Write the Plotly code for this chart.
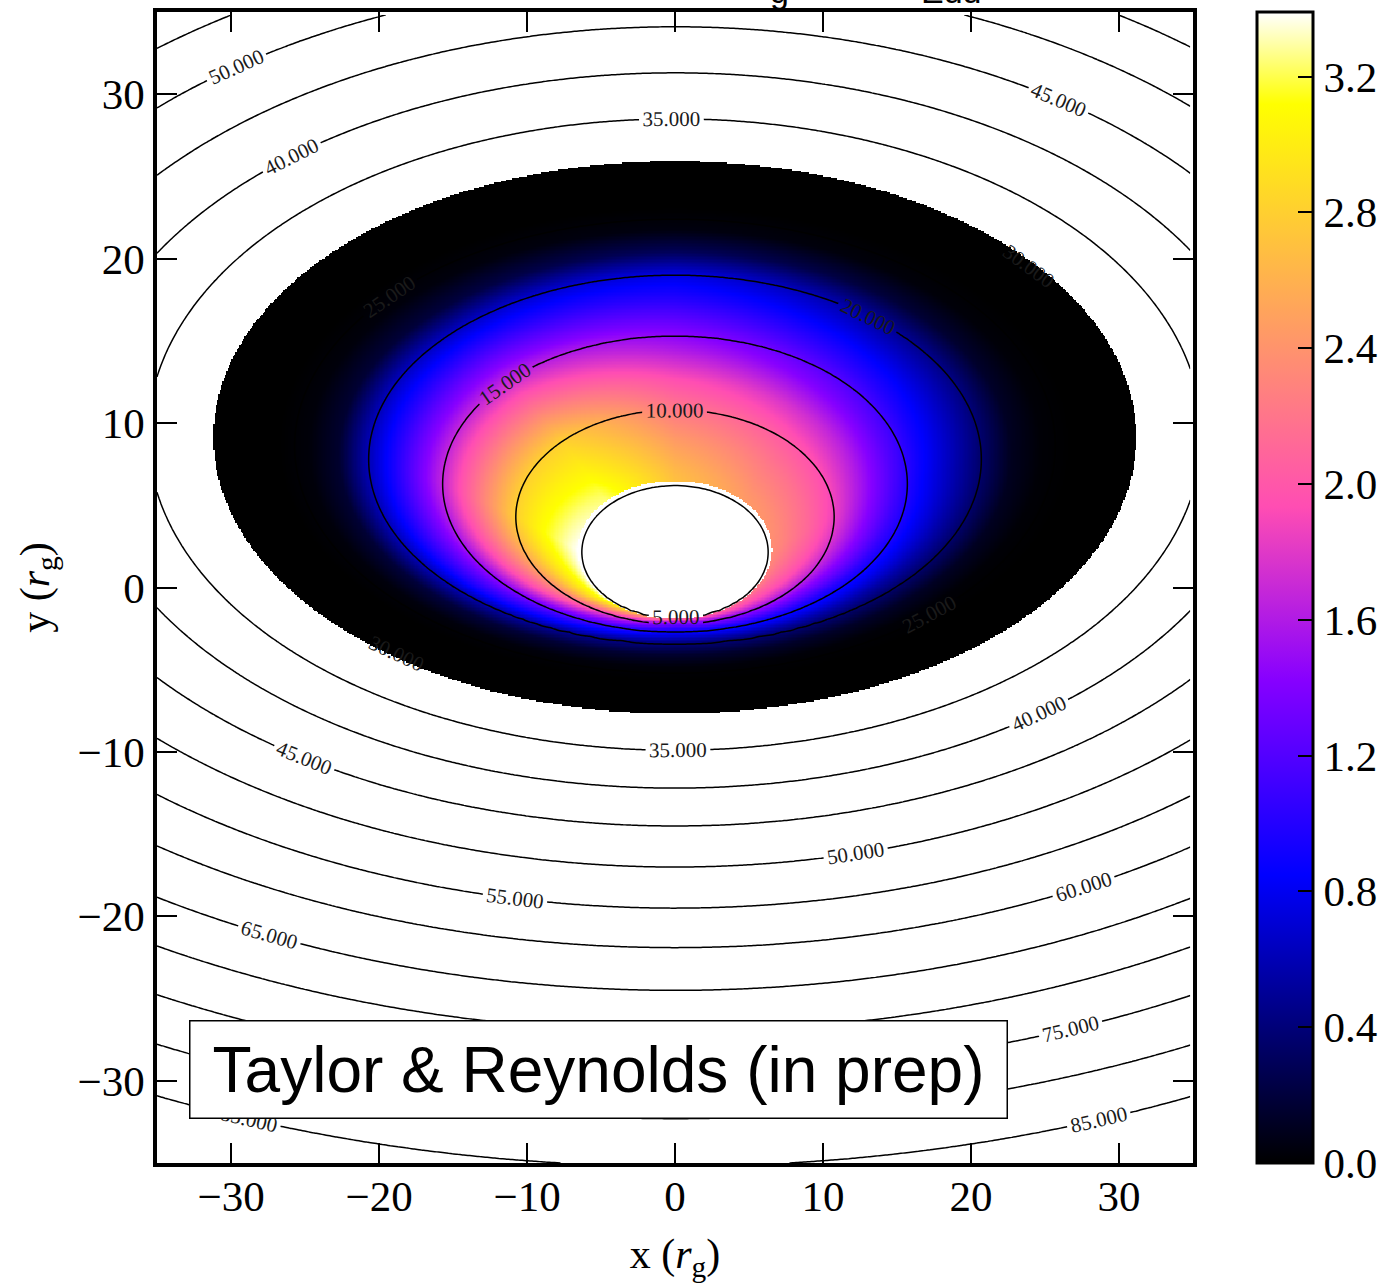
import numpy as np
import plotly.graph_objects as go

# ---------------- data ----------------
# geometry of the r-contours (r in r_g): projected ellipse half-width, centre height, half-height
surf_r     = [1, 3, 5, 10, 15, 20, 25, 30, 35, 40, 45, 50, 55, 60, 65, 70, 75, 80, 85, 90, 100, 120]
surf_halfx = [2.5, 4.4, 6.3, 10.75, 15.7, 20.7, 25.7, 30.8, 35.6, 40.3, 45.0, 49.7, 54.5, 59.3, 64.0,
              68.8, 73.5, 78.3, 83.0, 87.8, 97.3, 116.5]
surf_ycen  = [0.8, 1.4, 2.15, 4.3, 6.3, 7.8, 8.6, 9.1, 9.3, 9.55, 9.8, 10.0, 10.1, 10.2, 10.3, 10.4,
              10.5, 10.6, 10.7, 10.8, 11.0, 11.4]
surf_halfy = [1.6, 2.8, 4.05, 6.5, 9.0, 11.2, 13.8, 16.6, 19.2, 21.75, 24.3, 27.0, 29.6, 32.1, 34.8,
              37.4, 40.1, 42.9, 45.9, 48.7, 54.3, 65.5]

# disk extent
disk_r_in = 5.3
disk_r_out = 30.4

# emission read along 8 directions round the rings (0 = right, counter-clockwise, 45 deg apart)
prof_r = [5.3, 6, 8, 10, 12, 14, 16, 18, 20, 22, 24, 26, 30.4]
I_right      = [2.35, 2.30, 2.10, 1.85, 1.50, 1.15, 0.85, 0.60, 0.35, 0.10, 0.02, 0.0, 0.0]
I_upright    = [2.45, 2.40, 2.22, 2.02, 1.72, 1.35, 1.05, 0.78, 0.50, 0.18, 0.03, 0.0, 0.0]
I_top        = [2.70, 2.65, 2.45, 2.22, 1.95, 1.60, 1.30, 1.00, 0.75, 0.30, 0.05, 0.0, 0.0]
I_upleft     = [3.25, 3.20, 3.00, 2.80, 2.35, 1.90, 1.45, 1.05, 0.65, 0.20, 0.04, 0.0, 0.0]
I_left       = [3.39, 3.32, 3.10, 2.80, 2.35, 1.90, 1.45, 1.00, 0.60, 0.15, 0.03, 0.0, 0.0]
I_lowleft    = [3.30, 3.10, 2.70, 2.30, 1.95, 1.60, 1.25, 0.95, 0.60, 0.20, 0.04, 0.0, 0.0]
I_bottom     = [2.10, 1.90, 1.60, 1.35, 1.15, 0.95, 0.80, 0.60, 0.40, 0.15, 0.03, 0.0, 0.0]
I_lowright   = [2.20, 2.05, 1.85, 1.60, 1.30, 1.00, 0.80, 0.55, 0.35, 0.12, 0.02, 0.0, 0.0]

contour_start, contour_end, contour_step = 5, 85, 5
cbar_ticks = [0.0, 0.4, 0.8, 1.2, 1.6, 2.0, 2.4, 2.8, 3.2]
z_max = 3.39
x_ticks = [-30, -20, -10, 0, 10, 20, 30]
y_ticks = [-30, -20, -10, 0, 10, 20, 30]

# ---------------- build the fields ----------------
xg = np.linspace(-35, 35, 801)
yg = np.linspace(-35, 35, 801)
X, Y = np.meshgrid(xg, yg)

r_field = np.full(X.shape, np.nan)
steps = np.arange(1.0, 120.0, 0.2)
prevG = None
r_prev = None
for rv in steps:
    a = np.interp(rv, surf_r, surf_halfx)
    c = np.interp(rv, surf_r, surf_ycen)
    b = np.interp(rv, surf_r, surf_halfy)
    G = np.sqrt((X / a) ** 2 + ((Y - c) / b) ** 2)
    if prevG is None:
        r_field[G <= 1] = rv
    else:
        m = np.isnan(r_field) & (G <= 1)
        frac = (prevG[m] - 1) / (prevG[m] - G[m])
        r_field[m] = r_prev + frac * (rv - r_prev)
    prevG = G
    r_prev = rv
r_field[np.isnan(r_field)] = 120.0

a_r = np.interp(r_field, surf_r, surf_halfx)
c_r = np.interp(r_field, surf_r, surf_ycen)
b_r = np.interp(r_field, surf_r, surf_halfy)
theta = np.mod(np.arctan2((Y - c_r) / b_r, X / a_r), 2 * np.pi)

dirs = [I_right, I_upright, I_top, I_upleft, I_left, I_lowleft, I_bottom, I_lowright]
Id = np.stack([np.interp(r_field, prof_r, d) for d in dirs])
pos = theta / (np.pi / 4)
k0 = np.floor(pos).astype(int) % 8
k1 = (k0 + 1) % 8
w = pos - np.floor(pos)
ii, jj = np.indices(X.shape)
I = (1 - w) * Id[k0, ii, jj] + w * Id[k1, ii, jj]
z = np.where((r_field >= disk_r_in) & (r_field <= disk_r_out), np.round(I, 3), np.nan).astype(np.float32)

# gnuplot2 colour map
gnuplot2 = [
    [0.0, "rgb(0,0,0)"],
    [0.25, "rgb(0,0,255)"],
    [0.42, "rgb(135,0,255)"],
    [0.57, "rgb(255,77,179)"],
    [0.92, "rgb(255,255,0)"],
    [1.0, "rgb(255,255,255)"],
]

serif = "Liberation Serif"
sans = "Liberation Sans"

fig = go.Figure()
fig.add_trace(go.Heatmap(
    x=xg, y=yg, z=z, zmin=0, zmax=z_max, colorscale=gnuplot2, zsmooth=False,
    hoverinfo="skip",
    colorbar=dict(
        x=1.0618, xanchor="left", y=0.5, yanchor="middle", len=1.0, lenmode="fraction",
        thickness=56, thicknessmode="pixels", xpad=0, ypad=0,
        outlinewidth=3, outlinecolor="black",
        tickmode="array", tickvals=cbar_ticks, ticktext=[f"{v:.1f}" for v in cbar_ticks],
        ticks="inside", ticklen=16, tickwidth=2, tickcolor="black",
        tickfont=dict(family=serif, size=43, color="black"),
    ),
))

sub = 3
fig.add_trace(go.Contour(
    x=xg[::sub], y=yg[::sub], z=r_field[::sub, ::sub],
    contours=dict(start=contour_start, end=contour_end, size=contour_step, coloring="none",
                  showlabels=True, labelformat=".3f",
                  labelfont=dict(family=serif, size=21, color="#1a1a1a")),
    line=dict(color="black", width=1.5, smoothing=1),
    showscale=False, hoverinfo="skip",
))

axis_common = dict(
    showline=True, linewidth=3.5, linecolor="black", mirror="allticks",
    ticks="inside", ticklen=20, tickwidth=2, tickcolor="black",
    showgrid=False, zeroline=False,
    tickfont=dict(family=serif, size=43, color="black"),
    range=[-35, 35],
)

fig.update_layout(
    width=1382, height=1287,
    margin=dict(l=157, r=189, t=12, b=124, autoexpand=False),
    paper_bgcolor="white", plot_bgcolor="white",
    showlegend=False,
    xaxis=dict(**axis_common, tickvals=x_ticks, ticklabelstandoff=-7,
               title=dict(text="x (<i>r</i><sub>g</sub>)", font=dict(family=serif, size=42, color="black"),
                          standoff=20)),
    yaxis=dict(**axis_common, tickvals=y_ticks,
               title=dict(text="y (<i>r</i><sub>g</sub>)", font=dict(family=serif, size=42, color="black"),
                          standoff=16)),
    annotations=[
        dict(x=-5.2, y=-29.3, xref="x", yref="y", text="Taylor &amp; Reynolds (in prep)",
             showarrow=False, xanchor="center", yanchor="middle",
             font=dict(family=sans, size=64, color="black"),
             bgcolor="white", bordercolor="black", borderwidth=1.5, borderpad=8,
             width=800, height=80),
        dict(x=0.601, y=1.0, xref="paper", yref="paper", text="g", showarrow=False,
             xanchor="center", yanchor="bottom", font=dict(family=sans, size=34, color="black")),
        dict(x=0.767, y=1.0, xref="paper", yref="paper", text="Edd", showarrow=False,
             xanchor="center", yanchor="bottom", font=dict(family=sans, size=34, color="black")),
    ],
)

fig.write_html("out.html")
